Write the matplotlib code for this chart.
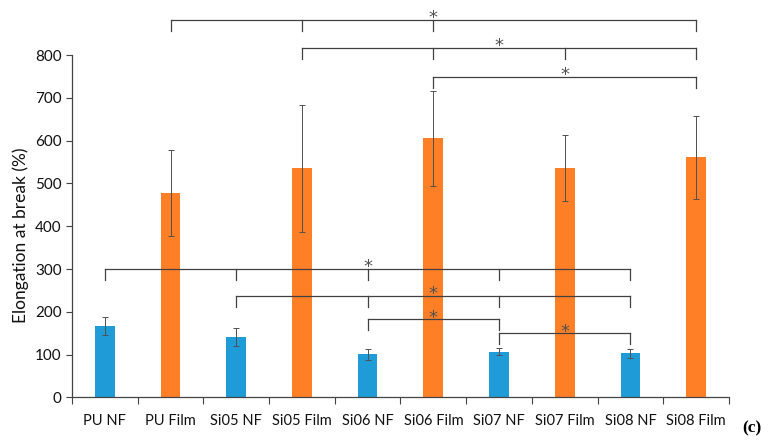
import matplotlib
matplotlib.use("Agg")
import numpy as np
import matplotlib.pyplot as plt

plt.rcParams['font.family'] = ['Lato', 'DejaVu Sans']

# sample names and values
samples = ['PU NF', 'PU Film', 'Si05 NF', 'Si05 Film', 'Si06 NF',
           'Si06 Film', 'Si07 NF', 'Si07 Film', 'Si08 NF', 'Si08 Film']
elongation = [166, 478, 141, 535, 101, 606, 107, 537, 103, 561]
elong_err = [21, 100, 21, 149, 13, 111, 8, 77, 11, 97]
is_film = [False, True, False, True, False, True, False, True, False, True]

# significance brackets: (height, sample indices with ticks, star index)
brackets_top = [
    (883, [1, 3, 5, 9], 5),
    (817, [3, 5, 7, 9], 6),
    (749, [5, 9], 7),
]
brackets_low = [
    (300, [0, 2, 4, 6, 8], 4),
    (238, [2, 4, 6, 8], 5),
    (183, [4, 6], 5),
    (150, [6, 8], 7),
]

BLUE = '#1F9BD7'
ORANGE = '#FF7F27'

fig = plt.figure(figsize=(7.69, 4.44), dpi=100)
ax = fig.add_axes([0.0936, 0.105, 0.8544, 0.771])

x = np.arange(len(samples))
colors = [ORANGE if f else BLUE for f in is_film]
ax.bar(x, elongation, width=0.3, color=colors, zorder=2)
ax.errorbar(x, elongation, yerr=elong_err, fmt='none', ecolor='#505050',
            elinewidth=0.7, capsize=2.5, capthick=0.7, zorder=3)

ax.set_xlim(-0.5, len(samples) - 0.5)
ax.set_ylim(0, 800)
ax.set_yticks(range(0, 801, 100))
ax.set_xticks(x)
ax.set_xticklabels(samples)
ax.set_xticks(np.arange(-0.5, len(samples), 1.0), minor=True)
ax.tick_params(axis='x', which='major', length=0, labelsize=10.5, pad=12, colors='#111111')
ax.tick_params(axis='x', which='minor', length=5, width=0.8, color='#444444')
ax.tick_params(axis='y', length=4, width=0.8, labelsize=11, color='#444444', labelcolor='#111111')
for s in ['top', 'right']:
    ax.spines[s].set_visible(False)
for s in ['left', 'bottom']:
    ax.spines[s].set_color('#444444')
    ax.spines[s].set_linewidth(0.9)
ax.set_ylabel('Elongation at break (%)', fontsize=12.5, color='#111111')
ax.yaxis.set_label_coords(-0.066, 0.474)

tick_len = 26
for y, idx, star in brackets_top + brackets_low:
    ax.plot([idx[0], idx[-1]], [y, y], color='#404040', lw=0.9, clip_on=False, zorder=4)
    for i in idx:
        ax.plot([i, i], [y, y - tick_len], color='#404040', lw=0.9, clip_on=False, zorder=4)
    ax.annotate('*', xy=(star, y), xytext=(0, -2.5), textcoords='offset points',
                ha='center', va='baseline', fontsize=13, family='DejaVu Sans',
                color='#505050', annotation_clip=False, zorder=5)

fig.text(0.978, 0.036, '(c)', fontsize=12.5, fontweight='bold',
         family='Liberation Serif', ha='center', va='center')

fig.savefig('out.png', dpi=100)
